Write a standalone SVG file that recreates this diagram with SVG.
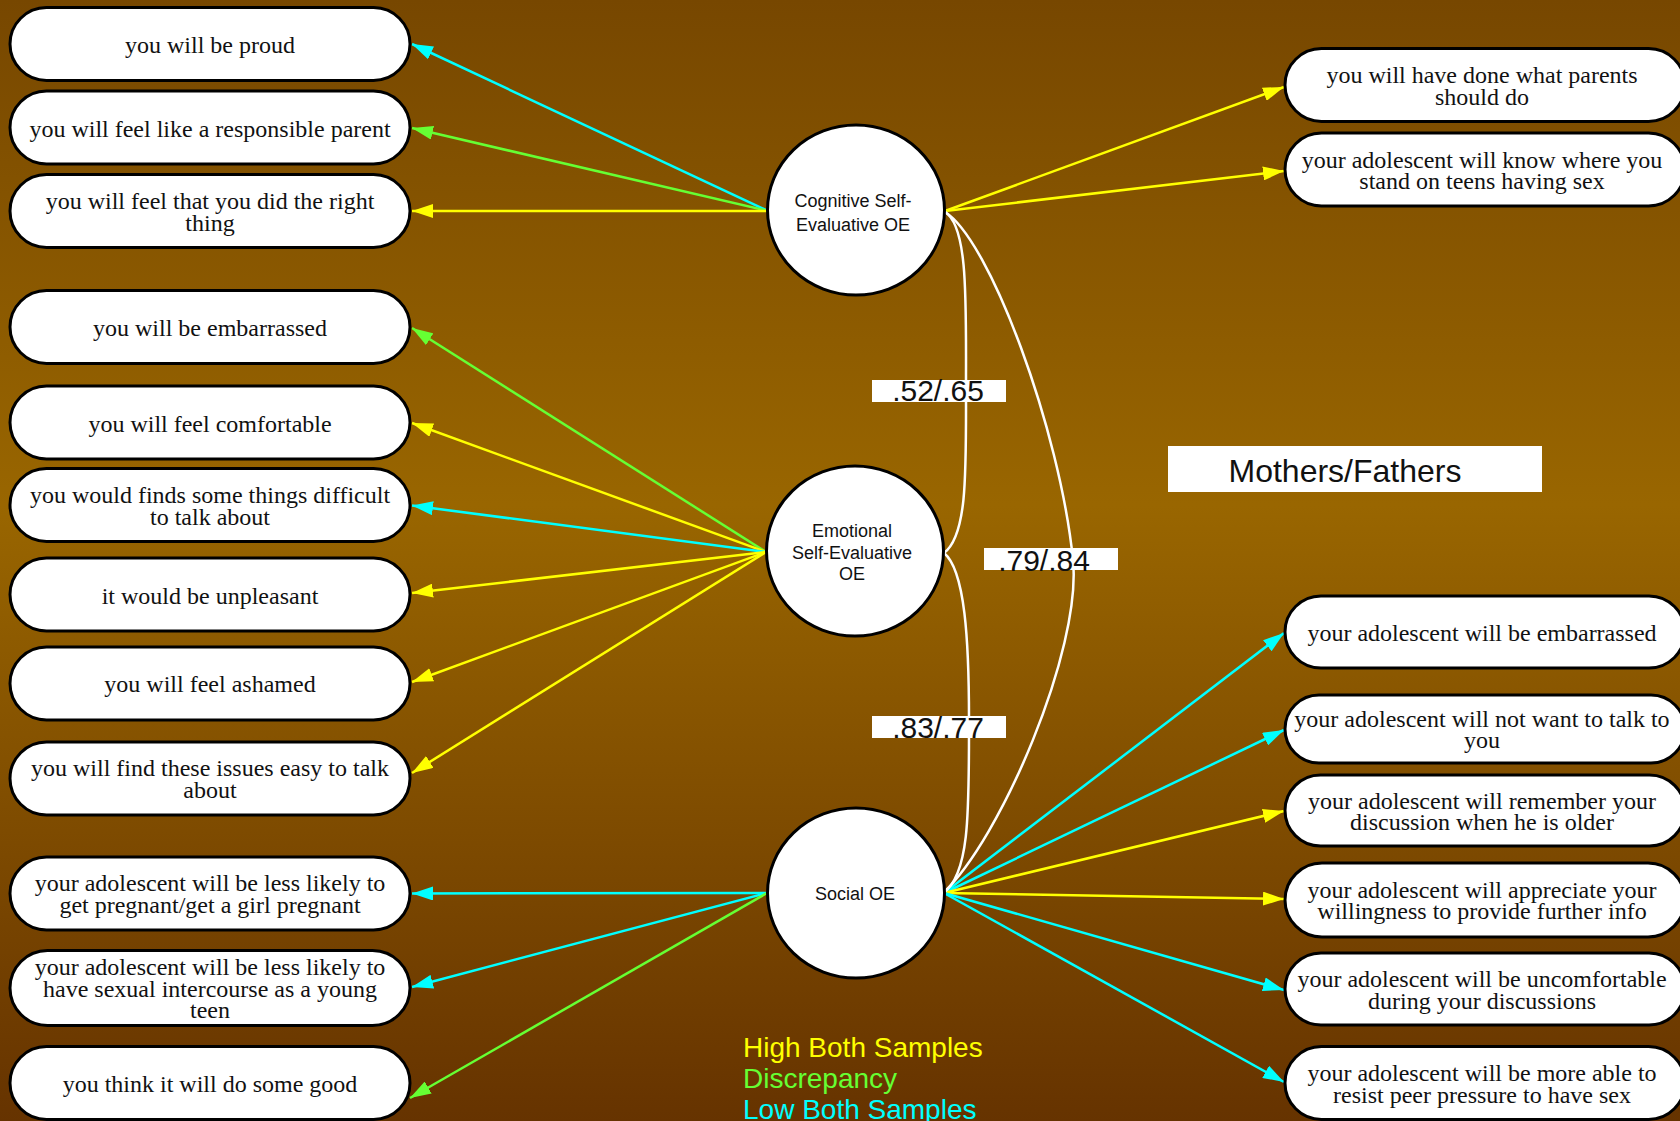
<svg xmlns="http://www.w3.org/2000/svg" width="1680" height="1121" viewBox="0 0 1680 1121">
<defs>
<linearGradient id="bg" x1="0" y1="0" x2="0" y2="1">
<stop offset="0" stop-color="#774700"/>
<stop offset="0.45" stop-color="#996600"/>
<stop offset="1" stop-color="#663300"/>
</linearGradient>
<marker id="aC" markerUnits="userSpaceOnUse" markerWidth="22" markerHeight="14" refX="21" refY="7" orient="auto"><path d="M0,0 L21,7 L0,14 z" fill="#00ffff"/></marker>
<marker id="aG" markerUnits="userSpaceOnUse" markerWidth="22" markerHeight="14" refX="21" refY="7" orient="auto"><path d="M0,0 L21,7 L0,14 z" fill="#66ff33"/></marker>
<marker id="aY" markerUnits="userSpaceOnUse" markerWidth="22" markerHeight="14" refX="21" refY="7" orient="auto"><path d="M0,0 L21,7 L0,14 z" fill="#ffff00"/></marker>
<style>
.box{fill:#fff;stroke:#000;stroke-width:3}
.circ{fill:#fff;stroke:#000;stroke-width:3}
.t{font-family:"Liberation Serif","Times New Roman",serif;font-size:24px;fill:#111;text-anchor:middle}
.ct{font-family:"Liberation Sans",Arial,sans-serif;font-size:18px;fill:#111;text-anchor:middle}
.e{fill:none;stroke-width:2.5}
.c{stroke:#00ffff;marker-end:url(#aC)}
.g{stroke:#66ff33;marker-end:url(#aG)}
.y{stroke:#ffff00;marker-end:url(#aY)}
.w{fill:none;stroke:#fff;stroke-width:2.5}
.lb{fill:#fff}
.lt{font-family:"Liberation Sans",Arial,sans-serif;font-size:30px;fill:#111;text-anchor:middle}
.leg{font-family:"Liberation Sans",Arial,sans-serif;font-size:28px}
</style>
</defs>
<rect x="0" y="0" width="1680" height="1121" fill="url(#bg)"/>

<g id="connectors">
<path class="e c" d="M768,211 L412,44"/>
<path class="e g" d="M768,211 L412,128"/>
<path class="e y" d="M768,211 L412,211"/>
<path class="e g" d="M766,552 L412,328"/>
<path class="e y" d="M766,552 L412,423"/>
<path class="e c" d="M766,552 L412,505.5"/>
<path class="e y" d="M766,552 L412,593"/>
<path class="e y" d="M766,552 L412,682"/>
<path class="e y" d="M766,552 L412,773"/>
<path class="e c" d="M767,893 L412,893.5"/>
<path class="e c" d="M767,893 L412,987"/>
<path class="e g" d="M767,893 L410,1098"/>
<path class="e y" d="M945,211 L1284,87"/>
<path class="e y" d="M945,211 L1284,171"/>
<path class="e c" d="M944,893 L1284,633"/>
<path class="e c" d="M944,893 L1284,730"/>
<path class="e y" d="M944,893 L1284,811"/>
<path class="e y" d="M944,893 L1284,899"/>
<path class="e c" d="M944,893 L1284,990"/>
<path class="e c" d="M944,893 L1284,1082"/>
<path class="w" d="M945,212 C968,226 966,300 966,382 C966,470 968,535 944,553"/>
<path class="w" d="M944,553 C965,570 969,640 969,720 C969,810 970,875 943,893"/>
<path class="w" d="M945,212 C990,240 1060,430 1073,560 C1082,650 1000,840 943,893"/>
<rect class="lb" x="872" y="380" width="134" height="22"/>
<text class="lt" x="938" y="401">.52/.65</text>
<rect class="lb" x="984" y="548" width="134" height="22"/>
<text class="lt" x="1044" y="571">.79/.84</text>
<rect class="lb" x="872" y="716" width="134" height="22"/>
<text class="lt" x="938" y="738">.83/.77</text>
</g>

<g id="cognitive"><ellipse class="circ" cx="856" cy="210" rx="88.5" ry="85"/><text class="ct" x="853" y="207">Cognitive Self-</text><text class="ct" x="853" y="231">Evaluative OE</text></g>
<g id="emotional"><ellipse class="circ" cx="855" cy="551" rx="88.5" ry="85"/><text class="ct" x="852" y="537">Emotional</text><text class="ct" x="852" y="559">Self-Evaluative</text><text class="ct" x="852" y="580">OE</text></g>
<g id="social"><ellipse class="circ" cx="856" cy="893" rx="88.5" ry="85"/><text class="ct" x="855" y="900">Social OE</text></g>

<g id="L1"><rect class="box" x="10" y="7.5" width="400" height="73" rx="36.5"/><text class="t" x="210" y="52.5">you will be proud</text></g>
<g id="L2"><rect class="box" x="10" y="91" width="400" height="73" rx="36.5"/><text class="t" x="210" y="136.5">you will feel like a responsible parent</text></g>
<g id="L3"><rect class="box" x="10" y="174.5" width="400" height="73" rx="36.5"/><text class="t" x="210" y="209">you will feel that you did the right</text><text class="t" x="210" y="230.5">thing</text></g>
<g id="L4"><rect class="box" x="10" y="290.5" width="400" height="73" rx="36.5"/><text class="t" x="210" y="335.5">you will be embarrassed</text></g>
<g id="L5"><rect class="box" x="10" y="386" width="400" height="73" rx="36.5"/><text class="t" x="210" y="431.5">you will feel comfortable</text></g>
<g id="L6"><rect class="box" x="10" y="468.5" width="400" height="73" rx="36.5"/><text class="t" x="210" y="503">you would finds some things difficult</text><text class="t" x="210" y="524.5">to talk about</text></g>
<g id="L7"><rect class="box" x="10" y="558" width="400" height="73" rx="36.5"/><text class="t" x="210" y="603.5">it would be unpleasant</text></g>
<g id="L8"><rect class="box" x="10" y="647" width="400" height="73" rx="36.5"/><text class="t" x="210" y="692">you will feel ashamed</text></g>
<g id="L9"><rect class="box" x="10" y="742" width="400" height="73" rx="36.5"/><text class="t" x="210" y="776">you will find these issues easy to talk</text><text class="t" x="210" y="797.5">about</text></g>
<g id="L10"><rect class="box" x="10" y="857" width="400" height="73" rx="36.5"/><text class="t" x="210" y="891">your adolescent will be less likely to</text><text class="t" x="210" y="912.5">get pregnant/get a girl pregnant</text></g>
<g id="L11"><rect class="box" x="10" y="950.5" width="400" height="75" rx="37.5"/><text class="t" x="210" y="975">your adolescent will be less likely to</text><text class="t" x="210" y="996.5">have sexual intercourse as a young</text><text class="t" x="210" y="1018">teen</text></g>
<g id="L12"><rect class="box" x="10" y="1046.5" width="400" height="73" rx="36.5"/><text class="t" x="210" y="1091.5">you think it will do some good</text></g>

<g id="R1"><rect class="box" x="1285" y="48.5" width="400" height="73" rx="36.5"/><text class="t" x="1482" y="83">you will have done what parents</text><text class="t" x="1482" y="104.5">should do</text></g>
<g id="R2"><rect class="box" x="1285" y="133" width="400" height="73" rx="36.5"/><text class="t" x="1482" y="167.5">your adolescent will know where you</text><text class="t" x="1482" y="189">stand on teens having sex</text></g>
<g id="R3"><rect class="box" x="1285" y="596" width="400" height="72" rx="36"/><text class="t" x="1482" y="640.5">your adolescent will be embarrassed</text></g>
<g id="R4"><rect class="box" x="1285" y="695" width="400" height="68" rx="34"/><text class="t" x="1482" y="726.5">your adolescent will not want to talk to</text><text class="t" x="1482" y="748">you</text></g>
<g id="R5"><rect class="box" x="1285" y="775" width="400" height="71" rx="35.5"/><text class="t" x="1482" y="808.5">your adolescent will remember your</text><text class="t" x="1482" y="830">discussion when he is older</text></g>
<g id="R6"><rect class="box" x="1285" y="863" width="400" height="74" rx="37"/><text class="t" x="1482" y="897.5">your adolescent will appreciate your</text><text class="t" x="1482" y="919">willingness to provide further info</text></g>
<g id="R7"><rect class="box" x="1285" y="953" width="400" height="72" rx="36"/><text class="t" x="1482" y="987">your adolescent will be uncomfortable</text><text class="t" x="1482" y="1008.5">during your discussions</text></g>
<g id="R8"><rect class="box" x="1285" y="1046.5" width="400" height="73" rx="36.5"/><text class="t" x="1482" y="1081">your adolescent will be more able to</text><text class="t" x="1482" y="1102.5">resist peer pressure to have sex</text></g>

<g id="title"><rect x="1168" y="446" width="374" height="46" fill="#fff"/><text x="1345" y="482" font-family="Liberation Sans, Arial, sans-serif" font-size="32" fill="#111" text-anchor="middle">Mothers/Fathers</text></g>

<g id="legend">
<text class="leg" x="743" y="1057" fill="#ffff00">High Both Samples</text>
<text class="leg" x="743" y="1088" fill="#66ff33">Discrepancy</text>
<text class="leg" x="743" y="1119" fill="#00ffff">Low Both Samples</text>
</g>
</svg>
